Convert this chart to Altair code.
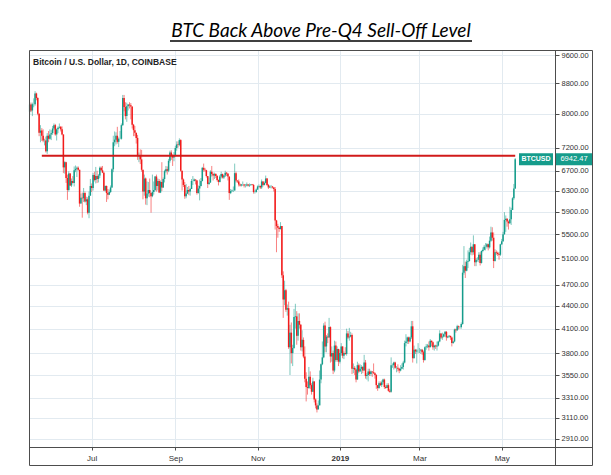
import altair as alt
import pandas as pd

# ---------------- data (daily BTC/USD candles, Coinbase) ----------------
start_date = "2018-05-16"
first_open = 8050

closes = [
    # May 2018 (16-31)
    8230, 8080, 8240, 8240, 8520, 8400, 8000, 7540, 7590, 7470, 7360, 7360, 7120, 7470, 7400, 7500,
    # Jun 2018
    7530, 7640, 7720, 7500, 7620, 7660, 7680, 7620, 7500, 6770, 6880, 6550, 6310, 6640, 6400,
    6490, 6450, 6710, 6740, 6760, 6720, 6050, 6160, 6150, 6250, 6090, 6130, 5880, 6200, 6390,
    # Jul 2018
    6350, 6610, 6510, 6590, 6530, 6600, 6760, 6710, 6660, 6300, 6390, 6250, 6220, 6270, 6360,
    6730, 7320, 7380, 7470, 7330, 7400, 7400, 7720, 8400, 8170, 7940, 8190, 8230, 8210, 8180, 7730,
    # Aug 2018
    7600, 7540, 7420, 7010, 7030, 6940, 6720, 6280, 6540, 6150, 6240, 6310, 6250, 6190, 6270,
    6310, 6580, 6390, 6490, 6260, 6470, 6360, 6530, 6690, 6730, 6700, 6910, 7090, 7030, 6980, 7020,
    # Sep 2018
    7190, 7270, 7260, 7370, 6700, 6520, 6410, 6190, 6240, 6310, 6280, 6330, 6490, 6490, 6520,
    6500, 6250, 6340, 6390, 6490, 6760, 6720, 6710, 6590, 6430, 6460, 6680, 6630, 6600, 6630,
    # Oct 2018
    6590, 6510, 6470, 6580, 6630, 6560, 6600, 6660, 6640, 6580, 6250, 6290, 6300, 6300, 6650,
    6500, 6480, 6420, 6400, 6420, 6420, 6400, 6400, 6420, 6400, 6410, 6420, 6410, 6270, 6270, 6320,
    # Nov 2018
    6380, 6390, 6360, 6480, 6410, 6450, 6540, 6410, 6360, 6380, 6380, 6360, 6330, 5740, 5640,
    5610, 5590, 5640, 4840, 4490, 4620, 4350, 4370, 3870, 4050, 3800, 3860, 4250, 4260, 4010,
    # Dec 2018
    4200, 4150, 3870, 3960, 3760, 3510, 3420, 3410, 3530, 3440, 3370, 3480, 3290, 3230, 3190,
    3230, 3500, 3670, 3750, 4140, 3880, 4000, 3990, 4120, 3760, 3800, 3600, 3890, 3720, 3850, 3700,
    # Jan 2019
    3800, 3880, 3770, 3800, 3790, 4040, 3990, 4000, 4020, 3620, 3630, 3610, 3500, 3660, 3590,
    3620, 3640, 3600, 3690, 3540, 3550, 3590, 3560, 3590, 3580, 3570, 3550, 3440, 3410, 3460, 3440,
    # Feb 2019
    3470, 3500, 3420, 3410, 3440, 3380, 3370, 3660, 3660, 3690, 3630, 3630, 3620, 3600,
    3620, 3640, 3690, 3920, 3940, 3990, 3940, 3990, 4130, 3740, 3840, 3820, 3830, 3830,
    # Mar 2019
    3830, 3840, 3810, 3720, 3870, 3880, 3890, 3870, 3950, 3930, 3870, 3890, 3880, 3890, 3940,
    4040, 3990, 4000, 4030, 4060, 3990, 4000, 4010, 3990, 3920, 3940, 4090, 4080, 4130, 4120, 4120,
    # Apr 2019
    4160, 4880, 4980, 4910, 5050, 5060, 5200, 5290, 5200, 5330, 5040, 5080, 5080, 5160, 5030,
    5220, 5240, 5290, 5290, 5330, 5280, 5390, 5530, 5440, 5060, 5200, 5190, 5170, 5160, 5330,
    # May 2019 (1-11)
    5380, 5500, 5750, 5770, 5720, 5690, 5760, 5930, 6150, 6340, 6942.47,
]

highs = [
    8290, 8280, 8280, 8390, 8580, 8540, 8420, 8010, 7720, 7650, 7620, 7400, 7450, 7530, 7580, 7620,
    7600, 7700, 7760, 7750, 7640, 7690, 7760, 7700, 7690, 7500, 6900, 6890, 6620, 6690, 6650,
    6540, 6590, 6790, 6810, 6790, 6790, 6720, 6240, 6260, 6350, 6280, 6180, 6170, 6280, 6530,
    6440, 6650, 6680, 6780, 6700, 6630, 6790, 6790, 6800, 6680, 6400, 6400, 6330, 6320, 6400,
    6750, 7470, 7570, 7550, 7680, 7430, 7580, 7760, 8480, 8480, 8290, 8280, 8240, 8290, 8270, 8180,
    7750, 7700, 7540, 7490, 7090, 7160, 7150, 6720, 6620, 6560, 6480, 6470, 6540, 6260, 6620,
    6480, 6590, 6620, 6540, 6530, 6500, 6880, 6560, 6720, 6800, 6790, 6950, 7130, 7140, 7050, 7100,
    7240, 7340, 7340, 7410, 7390, 6700, 6540, 6470, 6430, 6370, 6390, 6350, 6530, 6590, 6540,
    6520, 6510, 6400, 6520, 6550, 6780, 6850, 6760, 6720, 6590, 6560, 6710, 6800, 6660, 6660,
    6650, 6610, 6520, 6610, 6680, 6640, 6610, 6700, 6670, 6640, 6580, 6330, 6320, 6380, 6850,
    6680, 6500, 6520, 6440, 6430, 6480, 6430, 6430, 6460, 6430, 6440, 6430, 6430, 6430, 6300, 6340,
    6400, 6420, 6400, 6520, 6480, 6480, 6600, 6550, 6430, 6400, 6410, 6390, 6370, 6370, 5750,
    5680, 5620, 5710, 5640, 4900, 4760, 4640, 4420, 4460, 4150, 4180, 3900, 4360, 4430, 4330,
    4300, 4300, 4160, 4080, 3990, 3880, 3580, 3480, 3640, 3590, 3460, 3520, 3480, 3300, 3250,
    3280, 3600, 3680, 3940, 4170, 4190, 4020, 4040, 4240, 4130, 3880, 3830, 3950, 3940, 3880, 3850,
    3840, 3920, 3880, 3820, 3870, 4100, 4070, 4110, 4060, 4040, 3680, 3650, 3620, 3700, 3680,
    3670, 3660, 3650, 3780, 3720, 3570, 3620, 3620, 3600, 3590, 3680, 3580, 3560, 3440, 3480, 3480,
    3490, 3510, 3510, 3440, 3460, 3460, 3400, 3750, 3680, 3700, 3700, 3650, 3670, 3630,
    3660, 3680, 3710, 3950, 4030, 4000, 4000, 4000, 4200, 4200, 3890, 3850, 3850, 3920,
    3860, 3850, 3850, 3830, 3880, 3910, 3910, 3940, 3970, 3950, 3940, 3900, 3900, 3940, 3950,
    4080, 4040, 4050, 4040, 4070, 4070, 4010, 4020, 4010, 4000, 3950, 4100, 4100, 4150, 4140, 4130,
    4180, 5000, 5300, 5050, 5080, 5230, 5270, 5360, 5290, 5480, 5330, 5110, 5120, 5200, 5200,
    5230, 5280, 5320, 5350, 5350, 5340, 5460, 5630, 5620, 5530, 5250, 5230, 5210, 5200, 5340,
    5420, 5540, 5890, 5830, 5780, 5740, 5990, 5970, 6170, 6430, 6970,
]

lows = [
    7980, 8040, 7940, 8160, 8200, 8340, 7960, 7460, 7320, 7350, 7320, 7250, 7090, 7060, 7320, 7380,
    7370, 7490, 7600, 7470, 7360, 7530, 7640, 7570, 7480, 6650, 6640, 6450, 6120, 6280, 6390,
    6370, 6440, 6380, 6670, 6570, 6700, 5990, 6050, 5790, 6080, 6070, 6020, 5850, 5780, 6200,
    6270, 6300, 6480, 6440, 6450, 6460, 6550, 6690, 6650, 6290, 6280, 6080, 6130, 6210, 6250,
    6350, 6670, 7230, 7270, 7290, 7210, 7390, 7380, 7700, 8060, 7860, 7800, 8080, 8130, 7860, 7640,
    7460, 7460, 7290, 6930, 6880, 6840, 6680, 6130, 6200, 6030, 6020, 6180, 6170, 5880, 6170,
    6220, 6290, 6280, 6300, 6250, 6250, 6290, 6350, 6460, 6660, 6620, 6670, 6870, 6930, 6800, 6900,
    7000, 7130, 7200, 7230, 6680, 6300, 6370, 6140, 6150, 6230, 6210, 6200, 6330, 6410, 6480,
    6420, 6220, 6240, 6110, 6380, 6480, 6680, 6680, 6560, 6350, 6410, 6450, 6580, 6500, 6530,
    6550, 6480, 6400, 6460, 6540, 6540, 6530, 6570, 6590, 6500, 6120, 6230, 6270, 6270, 6300,
    6460, 6450, 6380, 6380, 6380, 6390, 6360, 6360, 6380, 6380, 6370, 6390, 6400, 6240, 6240, 6260,
    6310, 6360, 6330, 6330, 6380, 6400, 6440, 6390, 6330, 6350, 6340, 6340, 6280, 5580, 5200,
    5440, 5540, 5580, 4800, 4240, 4410, 4320, 4270, 3850, 3550, 3680, 3650, 3850, 4100, 3900,
    3950, 4100, 3830, 3820, 3740, 3470, 3270, 3340, 3400, 3400, 3340, 3370, 3260, 3200, 3160,
    3190, 3230, 3460, 3660, 3740, 3810, 3810, 3920, 3990, 3690, 3700, 3560, 3580, 3700, 3700, 3650,
    3680, 3770, 3740, 3730, 3780, 3770, 3970, 3950, 3990, 3560, 3570, 3550, 3470, 3500, 3570,
    3590, 3560, 3570, 3600, 3510, 3500, 3480, 3540, 3540, 3530, 3560, 3510, 3400, 3380, 3400, 3430,
    3420, 3450, 3400, 3400, 3410, 3370, 3360, 3360, 3630, 3610, 3620, 3580, 3590, 3570,
    3590, 3620, 3610, 3680, 3880, 3910, 3910, 3930, 3970, 3690, 3740, 3790, 3680, 3800,
    3800, 3790, 3780, 3690, 3710, 3840, 3860, 3830, 3870, 3880, 3840, 3830, 3850, 3830, 3880,
    3930, 3970, 3960, 3990, 4000, 3950, 3980, 3990, 3960, 3880, 3910, 3930, 4050, 4070, 4090, 4100,
    4100, 4150, 4850, 4800, 4900, 4950, 5050, 5160, 5150, 5160, 4980, 4980, 5050, 5040, 4990,
    5020, 5200, 5230, 5230, 5260, 5230, 5260, 5370, 5390, 4950, 5050, 5160, 5140, 5080, 5140,
    5320, 5370, 5490, 5540, 5630, 5580, 5680, 5660, 5930, 6120, 6330,
]

level_value = [7020]
level_start = ["2018-05-25"]
level_end = ["2019-05-11"]

y_ticks = [9600, 8800, 8000, 7200, 6700, 6300, 5900, 5500, 5100, 4700, 4400, 4100, 3800, 3550, 3310, 3110, 2910]
x_ticks = ["2018-07-01", "2018-09-01", "2018-11-01", "2019-01-01", "2019-03-01", "2019-05-01"]
x_domain = ["2018-05-15 12:00", "2019-06-09 12:00"]
y_domain = [2838, 9752]

title_text = "BTC Back Above Pre-Q4 Sell-Off Level"
subtitle_text = "Bitcoin / U.S. Dollar, 1D, COINBASE"
symbol_text = "BTCUSD"

# ---------------- build tables ----------------
dates = pd.date_range(start_date, periods=len(closes), freq="D")
opens = [first_open] + closes[:-1]
df = pd.DataFrame({
    "date": dates.strftime("%Y-%m-%d"),
    "open": opens,
    "close": closes,
    "high": highs,
    "low": lows,
})
df["dir"] = ["up" if c >= o else "down" for o, c in zip(opens, closes)]

def ms(s):
    return int(pd.Timestamp(s, tz="UTC").value // 10**6)

UP = "#159c8b"
DOWN = "#f21b1b"
GRID = "#e2eaf0"
FRAME = "#4d4d4d"
FONT = "Liberation Sans"

xscale = alt.Scale(type="utc", domain=[ms(d) for d in x_domain], padding=0, nice=False)
yscale = alt.Scale(type="log", domain=y_domain, nice=False, zero=False, padding=0)

x_axis = alt.Axis(
    values=[ms(d) for d in x_ticks],
    labelExpr="utcmonth(datum.value) == 0 ? utcFormat(datum.value, '%Y') : utcFormat(datum.value, '%b')",
    labelFontWeight={"condition": {"test": "utcmonth(datum.value) == 0", "value": "bold"}, "value": "normal"},
    title=None, domain=False, grid=True, gridColor=GRID, gridWidth=1,
    tickSize=3, tickColor=FRAME, labelFontSize=8, labelColor="#333333", labelFont=FONT,
    labelPadding=4, labelOverlap=False, labelFlush=False,
)
y_axis = alt.Axis(
    orient="right", values=y_ticks, format=".2f", title=None, domain=False,
    grid=True, gridColor=GRID, gridWidth=1, tickSize=4, tickColor=FRAME,
    labelFontSize=7.5, labelColor="#333333", labelFont=FONT, labelPadding=2,
    labelOverlap=False, labelFlush=False,
)

color = alt.Color("dir:N", scale=alt.Scale(domain=["up", "down"], range=[UP, DOWN]), legend=None)

base = alt.Chart(df)
wicks = base.mark_rule(strokeWidth=1, opacity=0.55).encode(
    x=alt.X("date:T", scale=xscale, axis=x_axis),
    y=alt.Y("low:Q", scale=yscale, axis=y_axis),
    y2="high:Q",
    color=color,
)
bodies = base.mark_bar(width=1.5).encode(
    x=alt.X("date:T"),
    y=alt.Y("open:Q"),
    y2="close:Q",
    color=color,
)

level_df = pd.DataFrame({"start": level_start, "end": level_end, "level": level_value})
level = alt.Chart(level_df).mark_rule(color="#d11a1a", strokeWidth=2).encode(
    x="start:T", x2="end:T", y="level:Q"
)

last_df = pd.DataFrame({"price": [closes[-1]], "label": [f"{closes[-1]:.2f}"], "sym": [symbol_text]})
box1 = alt.Chart(last_df).mark_rule(color=UP, strokeWidth=12, strokeCap="butt").encode(
    y="price:Q", x=alt.value(490), x2=alt.value(524)
)
box2 = alt.Chart(last_df).mark_rule(color=UP, strokeWidth=12, strokeCap="butt").encode(
    y="price:Q", x=alt.value(527), x2=alt.value(563)
)
txt1 = alt.Chart(last_df).mark_text(color="white", fontSize=7, font=FONT, fontWeight="bold",
                                    align="center", baseline="middle").encode(
    y="price:Q", x=alt.value(507), text="sym:N"
)
txt2 = alt.Chart(last_df).mark_text(color="white", fontSize=7.5, font=FONT,
                                    align="center", baseline="middle").encode(
    y="price:Q", x=alt.value(545), text="label:N"
)

one = pd.DataFrame({"t": [title_text], "s": [subtitle_text]})
title = alt.Chart(one).mark_text(fontSize=19, fontStyle="italic", font="Lato, Liberation Sans",
                                 align="center", baseline="alphabetic", color="black").encode(
    x=alt.value(292), y=alt.value(-13), text="t:N"
)
underline = alt.Chart(one).mark_rule(color="black", strokeWidth=1.5).encode(
    x=alt.value(141), x2=alt.value(443), y=alt.value(-9)
)
subtitle = alt.Chart(one).mark_text(fontSize=8.5, font=FONT, fontWeight="bold", color="#222222",
                                    align="left", baseline="middle").encode(
    x=alt.value(4), y=alt.value(12), text="s:N"
)
frame = alt.Chart(one).mark_rect(fillOpacity=0, stroke=FRAME, strokeWidth=1).encode(
    x=alt.value(0.5), x2=alt.value(563.5), y=alt.value(0.5), y2=alt.value(415.5)
)
vline = alt.Chart(one).mark_rule(color=FRAME, strokeWidth=1).encode(
    x=alt.value(526.5), y=alt.value(0), y2=alt.value(415)
)
hline = alt.Chart(one).mark_rule(color=FRAME, strokeWidth=1).encode(
    x=alt.value(0), x2=alt.value(564), y=alt.value(397.5)
)

chart = alt.layer(
    wicks, bodies, level, box1, box2, txt1, txt2, title, underline, subtitle, frame, vline, hline
).properties(
    width=526, height=397,
    autosize=alt.AutoSizeParams(type="none"),
    padding={"left": 29, "top": 50, "right": 56, "bottom": 28},
    background="white",
).configure_view(stroke="transparent")

chart.save("out.html", embed_options={"renderer": "svg", "actions": False})
